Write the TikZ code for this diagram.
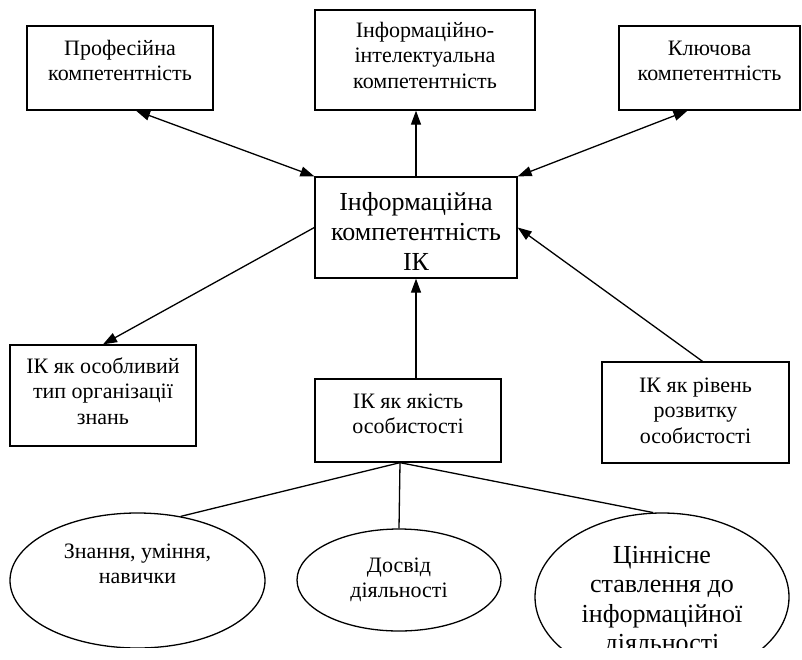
\documentclass[tikz,border=0pt]{standalone}
\usepackage{fontspec}
\setmainfont{Liberation Serif}
\usetikzlibrary{arrows.meta,shapes.geometric}

\newcommand{\BoxText}[4]{\parbox[c][#1pt][t]{#2pt}{\centering\rule{0pt}{#3pt}#4}}

\begin{document}
\begin{tikzpicture}[x=1pt,y=-1pt,line width=1.3pt,
  box/.style={draw,inner sep=0pt,font=\fontsize{22}{25.5}\selectfont},
  oval/.style={draw,ellipse,inner sep=0pt,font=\fontsize{22}{25.5}\selectfont},
  link/.style={-{Triangle[length=14pt,width=10pt]}},
  twoway/.style={{Triangle[length=14pt,width=10pt]}-{Triangle[length=14pt,width=10pt]}}]

\useasboundingbox (0,0) rectangle (802,659);
\clip (0,0) rectangle (802,647);

% top
\node[box] (CompProf) at (120,68) {\BoxText{84}{186}{29}{Професійна\\компетентність}};
\node[box] (CompInfoInt) at (425,60) {\BoxText{100}{220}{27}{Інформаційно-\\інтелектуальна\\компетентність}};
\node[box] (CompKey) at (709.5,68) {\BoxText{84}{181}{29}{Ключова\\компетентність}};

% centre
\node[box,font=\fontsize{26}{30}\selectfont] (CompInfo) at (416,227.5) {\BoxText{101}{202}{33}{Інформаційна\\компетентність\\ІК}};

% middle
\node[box] (IKKnow) at (103,395.5) {\BoxText{101}{186}{28}{ІК як особливий\\тип організації\\знань}};
\node[box] (IKQual) at (408,420.5) {\BoxText{83}{186}{29}{ІК як якість\\особистості}};
\node[box] (IKLevel) at (695.5,412.5) {\BoxText{101}{187}{30}{ІК як рівень\\розвитку\\особистості}};

% bottom
\node[oval,minimum width=255,minimum height=135] (PartKnow) at (137.5,580.5) {\BoxText{95}{170}{25}{Знання, уміння,\\навички}};
\node[oval,minimum width=204,minimum height=102] (PartExp) at (399,580) {\BoxText{70}{130}{27}{Досвід\\діяльності}};
\node[oval,minimum width=254,minimum height=168,font=\fontsize{26}{29.5}\selectfont] (PartValue) at (662,597) {\BoxText{118}{175}{25}{Ціннісне\\ставлення до\\інформаційної\\діяльності}};


\draw[twoway] ([xshift=16pt]CompProf.south) -- (CompInfo.north west);
\draw[link] (CompInfo.north) -- (CompInfo.north |- CompInfoInt.south);
\draw[twoway] ([xshift=-22pt]CompKey.south) -- (CompInfo.north east);

\draw[link] (CompInfo.west) -- (IKKnow.north);
\draw[link] (CompInfo.south |- IKQual.north) -- (CompInfo.south);
\draw[link] ([xshift=7pt]IKLevel.north) -- (CompInfo.east);

\coordinate (Fork) at ([xshift=-8pt]IKQual.south);
\draw (Fork) -- (PartKnow.56);
\draw (Fork) -- (PartExp.north);
\draw (Fork) -- (PartValue.96);

\end{tikzpicture}
\end{document}
